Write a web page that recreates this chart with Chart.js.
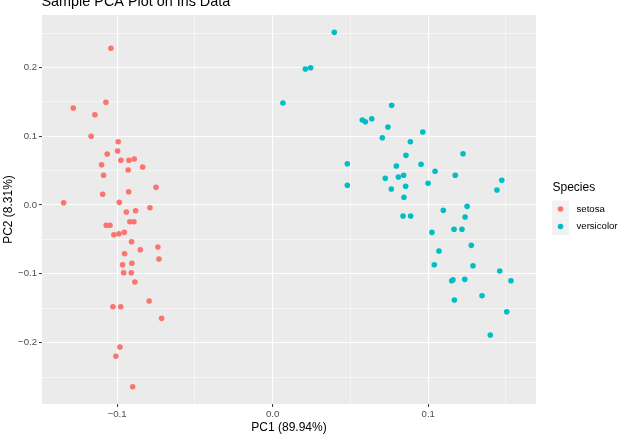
<!DOCTYPE html>
<html><head><meta charset="utf-8">
<script src="https://cdn.jsdelivr.net/npm/chart.js@4.4.1/dist/chart.umd.min.js"></script>
<style>html,body{margin:0;padding:0;background:#fff;} canvas{display:block;}</style>
</head><body>
<canvas id="c" width="621" height="436"></canvas>
<script>
const plotTitle = 'Sample PCA Plot on Iris Data';
const xTitle = 'PC1 (89.94%)';
const yTitle = 'PC2 (8.31%)';
const legendTitle = 'Species';
const speciesNames = ['setosa', 'versicolor'];
const speciesColors = ['#F8766D', '#00BFC4'];

const setosaPC1 = [-0.1040,-0.1072,-0.1282,-0.1143,-0.1167,-0.0993,-0.0997,-0.1064,-0.1100,-0.0976,
  -0.0924,-0.0890,-0.0836,-0.0929,-0.1087,-0.0750,-0.0926,-0.1093,-0.1344,-0.0986,
  -0.0789,-0.0941,-0.0881,-0.0918,-0.0892,-0.1070,-0.1046,-0.1021,-0.0988,-0.0954,
  -0.0907,-0.0738,-0.0851,-0.0952,-0.0731,-0.0965,-0.0905,-0.0958,-0.0909,-0.0886,
  -0.0794,-0.1027,-0.0977,-0.0714,-0.0982,-0.1008,-0.0900];
const setosaPC2 = [0.2278,0.1493,0.1410,0.1313,0.0999,0.0920,0.0785,0.0741,0.0586,0.0650,
  0.0650,0.0669,0.0552,0.0509,0.0432,0.0257,0.0193,0.0156,0.0033,0.0039,
  -0.0039,-0.0102,-0.0083,-0.0243,-0.0243,-0.0295,-0.0295,-0.0432,-0.0417,-0.0397,
  -0.0533,-0.0610,-0.0650,-0.0708,-0.0785,-0.0868,-0.0847,-0.0984,-0.0984,-0.1119,
  -0.1395,-0.1478,-0.1478,-0.1647,-0.2064,-0.2199,-0.2641];

const versicolorPC1 = [0.0396,0.0210,0.0244,0.0066,0.0765,0.0576,0.0596,0.0637,0.0741,0.0705,
  0.0885,0.0857,0.0795,0.0480,0.0480,0.0724,0.0808,0.0842,0.0855,0.0763,
  0.0844,0.0838,0.0887,0.0965,0.1224,0.0954,0.1044,0.1174,0.1473,0.0999,
  0.1442,0.1250,0.1097,0.1237,0.1166,0.1217,0.1024,0.1277,0.1069,0.1039,
  0.1288,0.1460,0.1151,0.1159,0.1235,0.1532,0.1346,0.1168,0.1505,0.1399];
const versicolorPC2 = [0.2510,0.1977,0.1996,0.1483,0.1449,0.1235,0.1211,0.1254,0.1134,0.0978,
  0.0920,0.0722,0.0567,0.0600,0.0286,0.0388,0.0407,0.0432,0.0272,0.0233,
  0.0112,-0.0160,-0.0160,0.1061,0.0746,0.0592,0.0490,0.0432,0.0359,0.0315,
  0.0218,-0.0019,-0.0077,-0.0174,-0.0353,-0.0353,-0.0397,-0.0586,-0.0669,-0.0868,
  -0.0882,-0.0959,-0.1100,-0.1086,-0.1080,-0.1100,-0.1318,-0.1381,-0.1551,-0.1890];

const xGridValues = [-0.1, -0.05, 0, 0.05, 0.1, 0.15];
const yGridValues = [-0.25, -0.2, -0.15, -0.1, -0.05, 0, 0.05, 0.1, 0.15, 0.2, 0.25];
const xRange = [-0.1483, 0.1693];
const yRange = [-0.2892, 0.2762];

const FONT = '"Liberation Sans", Arial, sans-serif';
const isMajor = v => Math.abs(v * 10 - Math.round(v * 10)) < 1e-6;
const fmt = v => (Math.abs(v) < 1e-9 ? 0 : v).toFixed(1).replace('-', '\u2212');

function toPoints(xs, ys) { return xs.map((x, i) => ({ x: x, y: ys[i] })); }

const decorPlugin = {
  id: 'decor',
  beforeDraw(chart) {
    const { ctx, chartArea: a } = chart;
    ctx.save();
    ctx.fillStyle = '#EBEBEB';
    ctx.fillRect(a.left, a.top, a.right - a.left, a.bottom - a.top);
    ctx.restore();
  },
  afterDraw(chart) {
    const { ctx, chartArea: a } = chart;
    ctx.save();
    ctx.fillStyle = '#000';
    ctx.textAlign = 'left';
    ctx.textBaseline = 'alphabetic';
    ctx.font = '14.4px ' + FONT;
    ctx.fillText(plotTitle, 41.5, 6);

    ctx.font = '12px ' + FONT;
    ctx.textAlign = 'center';
    ctx.textBaseline = 'middle';
    ctx.fillText(xTitle, (a.left + a.right) / 2, 428);
    ctx.save();
    ctx.translate(9, (a.top + a.bottom) / 2);
    ctx.rotate(-Math.PI / 2);
    ctx.fillText(yTitle, 0, 0);
    ctx.restore();

    // legend
    ctx.textAlign = 'left';
    ctx.fillText(legendTitle, 552.5, 187.5);
    ctx.font = '9.6px ' + FONT;
    speciesNames.forEach((name, i) => {
      const top = 200.5 + i * 17.5;
      ctx.fillStyle = '#F2F2F2';
      ctx.fillRect(552, top, 17, 17);
      ctx.fillStyle = speciesColors[i];
      ctx.beginPath();
      ctx.arc(560.5, top + 8.5, 2.8, 0, Math.PI * 2);
      ctx.fill();
      ctx.fillStyle = '#000';
      ctx.fillText(name, 576.5, top + 8.5);
    });
    ctx.restore();
  }
};

function axisCfg(gridValues, range, isX) {
  return {
    type: 'linear',
    min: range[0],
    max: range[1],
    afterBuildTicks: s => { s.ticks = gridValues.map(v => ({ value: v })); },
    afterFit: s => { if (isX) s.height = 32; else s.width = 42; },
    border: { display: false },
    grid: {
      color: '#FFFFFF',
      lineWidth: c => (c.tick && isMajor(c.tick.value)) ? 1.1 : 0.55,
      tickColor: c => (c.tick && isMajor(c.tick.value)) ? '#333333' : 'rgba(0,0,0,0)',
      tickWidth: 1,
      tickLength: 3,
      drawTicks: true
    },
    ticks: {
      autoSkip: false,
      maxRotation: 0,
      padding: isX ? 1.5 : 2,
      color: '#4D4D4D',
      font: { family: FONT, size: 9.6 },
      callback: v => isMajor(v) ? fmt(v) : ''
    },
    title: { display: false }
  };
}

new Chart(document.getElementById('c'), {
  type: 'scatter',
  data: {
    datasets: [
      { label: speciesNames[0], data: toPoints(setosaPC1, setosaPC2), backgroundColor: speciesColors[0], borderWidth: 0, pointRadius: 2.8, pointHoverRadius: 2.8 },
      { label: speciesNames[1], data: toPoints(versicolorPC1, versicolorPC2), backgroundColor: speciesColors[1], borderWidth: 0, pointRadius: 2.8, pointHoverRadius: 2.8 }
    ]
  },
  options: {
    responsive: false,
    animation: false,
    devicePixelRatio: 1,
    events: [],
    layout: { padding: { top: 15, right: 85, bottom: 0, left: 0 } },
    plugins: { legend: { display: false }, title: { display: false }, tooltip: { enabled: false } },
    scales: {
      x: axisCfg(xGridValues, xRange, true),
      y: axisCfg(yGridValues, yRange, false)
    }
  },
  plugins: [decorPlugin]
});
</script>
</body></html>
